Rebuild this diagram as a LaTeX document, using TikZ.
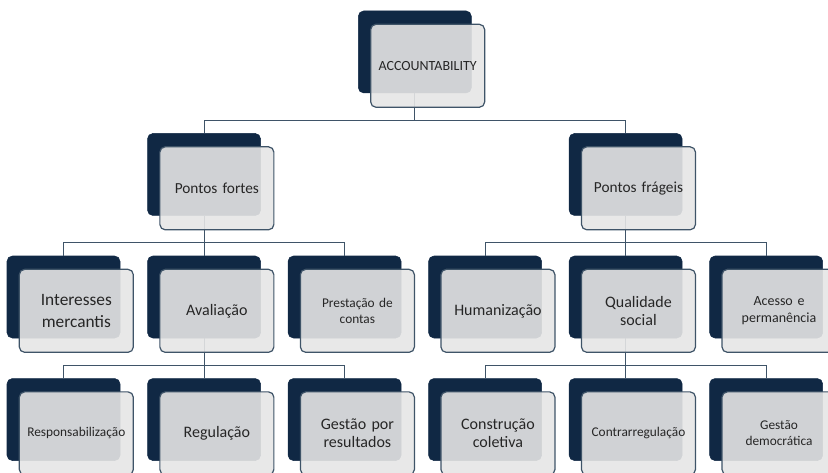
\documentclass[tikz,border=0pt]{standalone}
\usepackage{fontspec}
\setmainfont{Carlito}
\usetikzlibrary{positioning, calc}

\definecolor{navy}{RGB}{16,40,68}
\definecolor{slate}{RGB}{63,84,104}
\definecolor{pale}{RGB}{229,229,229}

\begin{document}
\begin{tikzpicture}[node distance=30pt and 20.25pt,
    back/.style={rectangle, rounded corners=4pt, fill=navy, draw=navy,
        minimum width=84.75pt, minimum height=61.5pt, inner sep=0pt},
    front/.style={rectangle, rounded corners=4pt, fill=pale, fill opacity=0.9,
        text opacity=1, draw=slate, line width=0.9pt, text=black!85,
        minimum width=85.5pt, minimum height=62.25pt, inner sep=2pt,
        text width=80pt, align=center, anchor=north west},
    link/.style={draw=slate, line width=0.75pt},
    big/.style={font=\fontsize{12}{14}\selectfont},
    small/.style={font=\fontsize{10}{12}\selectfont}]
  \useasboundingbox (0,0) rectangle (621pt,-354pt);

  % dark boxes, third row first
  \node (im) [back] at (47.625pt,-222.75pt) {};
  \node (av) [back, right = of im] {};
  \node (pc) [back, right = of av] {};
  \node (hu) [back, right = of pc] {};
  \node (qs) [back, right = of hu] {};
  \node (ap) [back, right = of qs] {};

  \node (pf) [back, above = of av] {};
  \node (pg) [back, above = of qs] {};
  \node (acc) [back, anchor=south, yshift=30pt] at ($(pf.north)!0.5!(pg.north)$) {};

  \node (re) [back, below = of av] {};
  \node (rs) [back, left = of re] {};
  \node (gr) [back, right = of re] {};
  \node (co) [back, below = of qs] {};
  \node (cc) [back, left = of co] {};
  \node (gd) [back, right = of co] {};

  % connectors
  \draw [link] (acc.south) -- ++(0,-20.25pt) -| (pf.north);
  \draw [link] (acc.south) -- ++(0,-20.25pt) -| (pg.north);
  \foreach \p/\c in {pf/im, pf/av, pf/pc, pg/hu, pg/qs, pg/ap,
                     av/rs, av/re, av/gr, qs/cc, qs/co, qs/gd}
    \draw [link] (\p.south) -- ++(0,-20.25pt) -| (\c.north);

  % light boxes with the texts
  \node (accf) [front, font=\fontsize{10.5}{12}\selectfont] at ([shift={(9pt,-9.75pt)}]acc.north west) {ACCOUNTABILITY};
  \node (pff) [front, font=\fontsize{11.5}{14}\selectfont] at ([shift={(9pt,-9.75pt)}]pf.north west) {Pontos fortes};
  \node (pgf) [front, font=\fontsize{11.5}{14}\selectfont] at ([shift={(9pt,-9.75pt)}]pg.north west) {Pontos frágeis};

  \node (imf) [front, font=\fontsize{13}{16}\selectfont] at ([shift={(9pt,-9.75pt)}]im.north west) {Interesses\\mercantis};
  \node (avf) [front, big] at ([shift={(9pt,-9.75pt)}]av.north west) {Avaliação};
  \node (pcf) [front, small] at ([shift={(9pt,-9.75pt)}]pc.north west) {Prestação de\\contas};
  \node (huf) [front, big] at ([shift={(9pt,-9.75pt)}]hu.north west) {Humanização};
  \node (qsf) [front, big] at ([shift={(9pt,-9.75pt)}]qs.north west) {Qualidade\\social};
  \node (apf) [front, font=\fontsize{10.5}{12.5}\selectfont] at ([shift={(9pt,-9.75pt)}]ap.north west) {Acesso e\\permanência};

  \node (rsf) [front, small] at ([shift={(9pt,-9.75pt)}]rs.north west) {Responsabilização};
  \node (ref) [front, big] at ([shift={(9pt,-9.75pt)}]re.north west) {Regulação};
  \node (grf) [front, big] at ([shift={(9pt,-9.75pt)}]gr.north west) {Gestão por\\resultados};
  \node (ccf) [front, big] at ([shift={(9pt,-9.75pt)}]cc.north west) {Construção\\coletiva};
  \node (cof) [front, small] at ([shift={(9pt,-9.75pt)}]co.north west) {Contrarregulação};
  \node (gdf) [front, small] at ([shift={(9pt,-9.75pt)}]gd.north west) {Gestão\\democrática};
\end{tikzpicture}
\end{document}
